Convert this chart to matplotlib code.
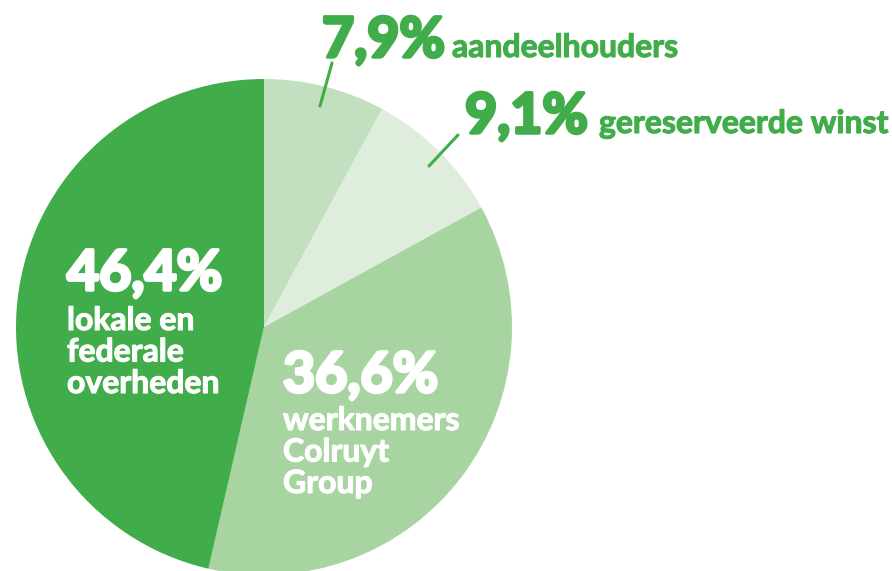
import matplotlib.pyplot as plt
import matplotlib.patheffects as pe

# Verdeling van de gecreëerde waarde
shares = [7.9, 9.1, 36.6, 46.4]
share_labels = ['7,9%', '9,1%', '36,6%', '46,4%']
names = [['aandeelhouders'], ['gereserveerde winst'],
         ['werknemers', 'Colruyt', 'Group'],
         ['lokale en', 'federale', 'overheden']]
colors = ['#c2dfc0', '#dfeddc', '#a8d4a1', '#40ad4a']
green = '#40ad4a'

W, H = 892, 571
fig = plt.figure(figsize=(W / 100, H / 100), dpi=100)
ax = fig.add_axes([0, 0, 1, 1])

# pie in pixel coordinates (y measured from the bottom)
cx, cy, r = 264, H - 327, 248
ax.pie(shares, colors=colors, startangle=90, counterclock=False,
       center=(cx, cy), radius=r, frame=True,
       wedgeprops=dict(linewidth=0))
ax.set_xlim(0, W)
ax.set_ylim(0, H)
ax.set_aspect('equal')
ax.axis('off')

num_font = dict(family='Lato', weight='bold', size=40)
txt_font = dict(family='Lato', weight='bold', size=23)

def put(x, y, s, color, font, stroke):
    # a stroke in the text colour makes the glyphs heavier
    ax.text(x, H - y, s, color=color, ha='left', va='baseline', **font,
            path_effects=[pe.withStroke(linewidth=stroke, foreground=color)])

def put_lines(x, y, lines, color, step=31.5):
    for i, line in enumerate(lines):
        put(x, y + i * step, line, color, txt_font, 0.8)

# outside labels with leader lines
put(322, 57, share_labels[0], green, num_font, 2.5)
put(452, 57, names[0][0], green, txt_font, 0.8)
ax.plot([320, 332], [H - 106, H - 63], color=green, lw=2.2, solid_capstyle='round')

put(465, 133, share_labels[1], green, num_font, 2.5)
put(599, 133, names[1][0], green, txt_font, 0.8)
ax.plot([429, 458], [H - 166, H - 135], color=green, lw=2.2, solid_capstyle='round')

# labels inside the large slices
put(283, 392, share_labels[2], 'white', num_font, 2.5)
put_lines(283, 430, names[2], 'white')

put(67, 290, share_labels[3], 'white', num_font, 2.5)
put_lines(67, 330, names[3], 'white')

fig.savefig('out.png', dpi=100)
